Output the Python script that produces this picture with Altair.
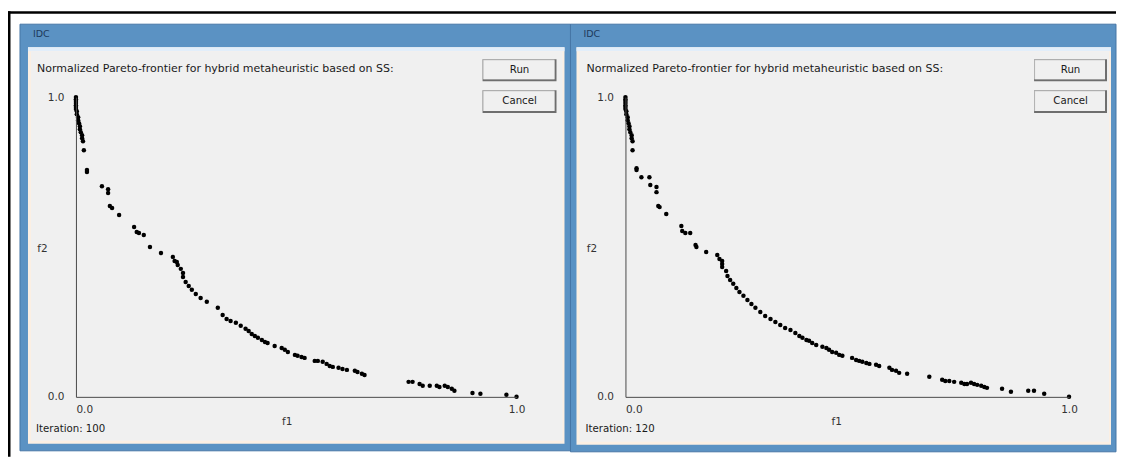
import altair as alt
import pandas as pd

# ---------------- data ----------------
f1_left = [0, 0, 0, 0, 0, 0, 0, 0.002, 0.002, 0.005, 0.005, 0.007, 0.009, 0.009, 0.011, 0.014, 0.014, 0.016,
           0.018, 0.025, 0.025, 0.059, 0.073, 0.073, 0.077, 0.082, 0.098, 0.132, 0.138, 0.143, 0.154, 0.168,
           0.193, 0.220, 0.224, 0.229, 0.231, 0.238, 0.243, 0.243, 0.249, 0.256, 0.263, 0.272, 0.283, 0.297,
           0.322, 0.333, 0.342, 0.351, 0.363, 0.374, 0.385, 0.392, 0.399, 0.406, 0.413, 0.422, 0.429, 0.435,
           0.451, 0.467, 0.474, 0.481, 0.497, 0.503, 0.512, 0.519, 0.542, 0.549, 0.560, 0.569, 0.576, 0.583,
           0.596, 0.605, 0.615, 0.633, 0.639, 0.649, 0.655, 0.755, 0.764, 0.780, 0.787, 0.803, 0.819, 0.825,
           0.837, 0.844, 0.853, 0.859, 0.900, 0.918, 0.977, 1.0]
f2_left = [1.0, 0.993, 0.987, 0.98, 0.973, 0.967, 0.96, 0.953, 0.943, 0.933, 0.923, 0.913, 0.903, 0.893, 0.883,
           0.873, 0.863, 0.853, 0.823, 0.757, 0.75, 0.703, 0.693, 0.68, 0.637, 0.63, 0.607, 0.567, 0.55, 0.547,
           0.54, 0.5, 0.48, 0.467, 0.453, 0.45, 0.44, 0.427, 0.413, 0.4, 0.383, 0.37, 0.357, 0.343, 0.33, 0.317,
           0.297, 0.273, 0.26, 0.253, 0.247, 0.237, 0.227, 0.22, 0.21, 0.203, 0.197, 0.19, 0.183, 0.18,
           0.17, 0.163, 0.157, 0.15, 0.14, 0.137, 0.133, 0.13, 0.12, 0.12, 0.117, 0.11, 0.103, 0.1,
           0.097, 0.093, 0.09, 0.087, 0.083, 0.077, 0.073, 0.05, 0.05, 0.043, 0.037, 0.037, 0.037, 0.033,
           0.037, 0.033, 0.027, 0.02, 0.013, 0.01, 0.007, 0.0]

f1_right = [0, 0, 0, 0, 0, 0, 0, 0.002, 0.002, 0.005, 0.005, 0.007, 0.009, 0.009, 0.011, 0.014, 0.014, 0.016,
            0.016, 0.025, 0.025, 0.036, 0.054, 0.056, 0.070, 0.070, 0.074, 0.077, 0.092, 0.126, 0.128, 0.135,
            0.146, 0.158, 0.160, 0.182, 0.207, 0.212, 0.218, 0.218, 0.218, 0.227, 0.230,
            0.236, 0.243, 0.250, 0.257, 0.266, 0.275, 0.284, 0.293, 0.304, 0.315, 0.327, 0.338, 0.349, 0.360,
            0.372, 0.383, 0.392, 0.399, 0.408, 0.414, 0.421, 0.430, 0.444, 0.453, 0.459, 0.466, 0.475, 0.482,
            0.489, 0.511, 0.520, 0.527, 0.534, 0.543, 0.550, 0.565, 0.572, 0.595, 0.601, 0.610, 0.617, 0.635,
            0.685, 0.714, 0.721, 0.730, 0.741, 0.757, 0.764, 0.770, 0.779, 0.786, 0.793, 0.802, 0.809, 0.815,
            0.849, 0.869, 0.908, 0.921, 0.944, 1.0]
f2_right = [1.0, 0.993, 0.987, 0.98, 0.973, 0.967, 0.96, 0.953, 0.943, 0.933, 0.923, 0.913, 0.903, 0.893, 0.883,
            0.873, 0.863, 0.853, 0.823, 0.763, 0.757, 0.733, 0.733, 0.707, 0.7, 0.683, 0.637, 0.633, 0.61, 0.57,
            0.553, 0.547, 0.547, 0.507, 0.5, 0.483, 0.473, 0.46, 0.453, 0.443, 0.433, 0.42, 0.403,
            0.39, 0.377, 0.363, 0.35, 0.337, 0.323, 0.31, 0.297, 0.283, 0.27, 0.26, 0.25, 0.24, 0.23,
            0.223, 0.213, 0.203, 0.197, 0.19, 0.187, 0.18, 0.173, 0.167, 0.163, 0.157, 0.15, 0.147, 0.14,
            0.137, 0.13, 0.123, 0.12, 0.117, 0.113, 0.11, 0.107, 0.103, 0.097, 0.09, 0.087, 0.08, 0.077,
            0.067, 0.057, 0.053, 0.053, 0.05, 0.047, 0.043, 0.043, 0.047, 0.043, 0.04, 0.037, 0.033, 0.03,
            0.027, 0.017, 0.02, 0.02, 0.01, 0.0]

window_title = "IDC"
header_text = "Normalized Pareto-frontier for hybrid metaheuristic based on SS:"
button_labels = ["Run", "Cancel"]
iterations = ["Iteration: 100", "Iteration: 120"]
x_title, y_title = "f1", "f2"
tick_values = [0, 1]

UI_FONT = "DejaVu Sans"
AX_FONT = "DejaVu Sans"
ONE = alt.Data(values=[{"k": 1}])


def rect(x1, x2, y1, y2, color, stroke=None):
    kw = {}
    if stroke:
        kw = {"stroke": stroke, "strokeWidth": 1}
    return alt.Chart(ONE).mark_rect(color=color, **kw).encode(
        x=alt.value(x1), x2=alt.value(x2), y=alt.value(y1), y2=alt.value(y2))


def txt(x, y, s, size=11, align="left", color="#1a1a1a"):
    return alt.Chart(ONE).mark_text(align=align, baseline="middle", font=UI_FONT,
                                    fontSize=size, color=color).encode(
        x=alt.value(x), y=alt.value(y), text=alt.value(s))


def button(x1, x2, y1, y2, label):
    return [
        rect(x1, x2, y1, y2, "#6e6e6e"),
        rect(x1, x2 - 2, y1, y2 - 2, "#b8b8b8"),
        rect(x1 + 1, x2 - 2, y1 + 1, y2 - 2, "#f0f0f0"),
        txt((x1 + x2) / 2, (y1 + y2) / 2 - 0.5, label, size=10.2, align="center"),
    ]


def panel(f1, f2, width, geo, iteration, border=False):
    df = pd.DataFrame({"f1": f1, "f2": f2})
    layers = []
    if border:
        layers += [rect(-68, -65.5, -86, 360, "#000000"),
                   rect(-68, 1041, -86, -83.5, "#000000")]
    fx1, fx2, fy1, fy2 = geo["frame"]
    cx1, cx2, cy1, cy2 = geo["content"]
    layers += [
        rect(fx1, fx2, fy1, fy2, "#5b92c3", stroke="#4676a6"),
        rect(cx1, cx2, cy1, cy2, "#fbefe3"),
        rect(cx1, cx2, cy1, cy1 + 4, "#e2eefa"),
        rect(cx1 + 3, cx2 - 2, cy1 + 4, cy2 - 3, "#f0f0f0"),
        txt(fx1 + 13, -63, window_title, size=9.5, color="#1d3a5c"),
        txt(-39, -28, header_text, size=11),
        txt(-40, 332, iteration, size=10.2),
    ]
    bx1, bx2 = geo["buttons"]
    layers += button(bx1, bx2, -38, -16, button_labels[0])
    layers += button(bx1, bx2, -7, 16, button_labels[1])

    x_label_align = {"condition": {"test": "datum.value == 0", "value": "left"}, "value": "center"}
    pts = alt.Chart(df).mark_circle(size=20, color="black", opacity=1).encode(
        x=alt.X("f1:Q", scale=alt.Scale(domain=[0, 1], nice=False),
                axis=alt.Axis(values=tick_values, format=".1f", ticks=False, grid=False,
                              labelFlush=False, labelAlign=x_label_align, labelPadding=8,
                              domainColor="#4a4a4a", zindex=1,
                              labelFont=AX_FONT, labelFontSize=10.5, labelColor="#333",
                              title=x_title, titleFont=AX_FONT, titleFontSize=10.5,
                              titleFontWeight="normal", titleColor="#333",
                              titleX=211, titleY=25, titleAlign="center", titleBaseline="middle")),
        y=alt.Y("f2:Q", scale=alt.Scale(domain=[0, 1], nice=False),
                axis=alt.Axis(values=tick_values, format=".1f", ticks=False, grid=False,
                              labelFlush=False, labelPadding=12, labelBaseline="middle",
                              domainColor="#4a4a4a", zindex=1,
                              labelFont=AX_FONT, labelFontSize=10.5, labelColor="#333",
                              title=y_title, titleFont=AX_FONT, titleFontSize=10.5,
                              titleFontWeight="normal", titleColor="#333", titleAngle=0,
                              titleX=-34, titleY=152, titleAlign="center", titleBaseline="middle")),
    )
    layers.append(pts)
    return alt.layer(*layers).properties(width=width, height=300)


left_geo = {"frame": (-56, 495, -73, 354), "content": (-48, 489, -50, 347), "buttons": (407, 481)}
right_geo = {"frame": (-55, 491, -73, 355), "content": (-49, 486, -50, 348), "buttons": (409, 482)}

left = panel(f1_left, f2_left, 441, left_geo, iterations[0], border=True)
right = panel(f1_right, f2_right, 444, right_geo, iterations[1])

chart = alt.hconcat(left, right, spacing=109, bounds="flush").properties(
    padding={"left": 0, "top": 3, "right": 0, "bottom": 0},
    background="white",
).configure_view(stroke=None)

chart.save("out.html", embed_options={"renderer": "svg", "actions": False})
